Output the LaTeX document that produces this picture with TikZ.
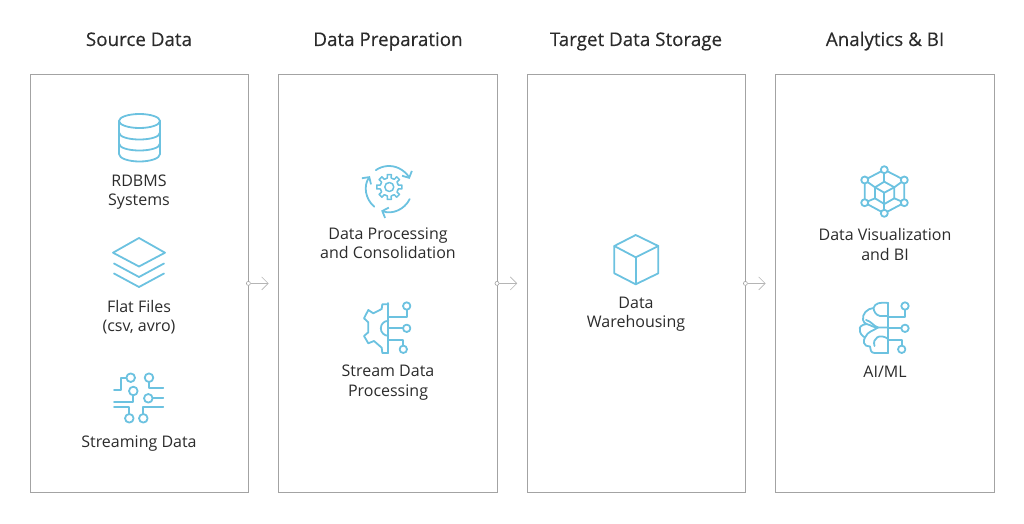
\documentclass[tikz,border=0pt]{standalone}
\usepackage{fontspec}
\setmainfont{Open Sans}
\newfontfamily\headfont[FakeBold=0.25]{Open Sans}
\usetikzlibrary{arrows.meta}
\definecolor{ico}{HTML}{6CC2E0}
\definecolor{pan}{HTML}{A3A3A3}
\definecolor{txt}{HTML}{2B2B2B}
\tikzset{
 x=1pt,y=-1pt,
 panel/.style={draw=pan,line width=0.8pt,minimum width=218.5pt,minimum height=418pt,inner sep=0pt,outer sep=0pt},
 head/.style={font=\headfont\fontsize{18.8}{20}\selectfont,text=txt,inner sep=0pt,anchor=base},
 lab/.style={font=\fontsize{16}{19.5}\selectfont,text=txt,align=center,inner sep=0pt},
 icon/.style={draw=ico,line width=1.8pt,line join=round,line cap=round},
 dot/.style={circle,draw=pan,fill=white,line width=0.6pt,minimum size=4pt,inner sep=0pt},
 flow/.style={draw=pan!80,line width=0.6pt,-{Straight Barb[length=6.5pt,width=13pt,line width=0.6pt]}},
 barb/.style={-{Straight Barb[length=5pt,width=11pt,line width=1.8pt]}},
}
\begin{document}
\begin{tikzpicture}
\useasboundingbox (0,0) rectangle (1024,524);
% panels
\node[panel] (p1) at (139.2,283) {};
\node[panel] (p2) at (387.8,283) {};
\node[panel] (p3) at (636.2,283) {};
\node[panel] (p4) at (884.8,283) {};
% headers
\node[head] (h1) at (139,46) {Source Data};
\node[head] (h2) at (388,46) {Data Preparation};
\node[head] (h3) at (636,46) {Target Data Storage};
\node[head] (h4) at (885,46) {Analytics \& BI};
% labels
\node[lab] (l1) at (139,192.3) {RDBMS\\Systems};
\node[lab] (l2) at (139,317) {Flat Files\\(csv, avro)};
\node[lab] (l3) at (139,444) {Streaming Data};
\node[lab] (l4) at (388,243) {Data Processing\\and Consolidation};
\node[lab] (l5) at (388,382.7) {Stream Data\\Processing};
\node[lab] (l6) at (636,314) {Data\\Warehousing};
\node[lab] (l7) at (885,244.5) {Data Visualization\\and BI};
\node[lab] (l8) at (885,371.5) {AI/ML};
% connectors
\node[dot] (d1) at (248.4,283.4) {};
\node[dot] (d2) at (497,283.4) {};
\node[dot] (d3) at (745.4,283.4) {};
\coordinate (e1) at (268.6,283.4);
\coordinate (e2) at (517.2,283.4);
\coordinate (e3) at (765.6,283.4);
\draw[flow] (d1) -- (e1);
\draw[flow] (d2) -- (e2);
\draw[flow] (d3) -- (e3);
% cylinder
\draw[icon] (139.5,121) ellipse [x radius=20.5,y radius=7];
\draw[icon] (119,121) -- (119,154) .. controls (119,158.5) and (129,161.5) .. (139.5,161.5) .. controls (150,161.5) and (160,158.5) .. (160,154) -- (160,121);
\draw[icon] (119,132.5) .. controls (119,137) and (129,139.5) .. (139.5,139.5) .. controls (150,139.5) and (160,137) .. (160,132.5);
\draw[icon] (119,143.5) .. controls (119,148) and (129,150.5) .. (139.5,150.5) .. controls (150,150.5) and (160,148) .. (160,143.5);
% layers
\draw[icon] (139,238) -- (165,252.7) -- (139,266.5) -- (113,252.7) -- cycle;
\draw[icon] (114,263.5) -- (139,277) -- (164,263.5);
\draw[icon] (114,273.5) -- (139,287) -- (164,273.5);
% streaming
\foreach \a/\b in {130.7/377.7,149/377.7,133.3/391,148.3/398.3,129.3/418.3,143.3/418.3}
  \draw[icon] (\a,\b) circle [radius=4.3pt];
\draw[icon] (126.4,377.7) -- (120.7,377.7) -- (120.7,390) -- (114,390);
\draw[icon] (149,382) -- (149,387.7) -- (163.3,387.7);
\draw[icon] (133.3,395.3) -- (133.3,401.7) -- (114,401.7);
\draw[icon] (152.6,398.3) -- (163.3,398.3);
\draw[icon] (129.3,414) -- (129.3,407.3) -- (114,407.3);
\draw[icon] (143.3,414) -- (143.3,407.3) -- (163.3,407.3);
% gear with cycle
\begin{scope}[shift={(389.3,187)}]
 \draw[icon,line width=1.5pt] (0,0) circle [radius=4.5pt];
 \foreach \t in {0,45,...,315}
  \draw[icon,line width=1.5pt] (\t-22.5:9pt) -- (\t-12:9.2pt) -- (\t-9:12.6pt) -- (\t+9:12.6pt) -- (\t+12:9.2pt) -- (\t+22.5:9pt);
\end{scope}
\begin{scope}[shift={(389,189)}]
 \draw[icon,barb] (125:23pt) arc [start angle=125,end angle=26,radius=23pt];
 \draw[icon,barb] (-26:23pt) arc [start angle=-26,end angle=-110,radius=23pt];
 \draw[icon,barb] (-130:23pt) arc [start angle=-130,end angle=-214,radius=23pt];
\end{scope}
% half gear
\draw[icon] (388.3,303) -- (388.3,353);
\draw[icon] (388.3,304.3) -- (382.3,304.3) -- (381.7,309) -- (373.3,313.3) -- (368.3,310) -- (364,318.3) -- (368.3,322.3) -- (368.3,332.3) -- (364,336) -- (368.3,343.3) -- (374,341) -- (381.7,347.7) -- (382.3,353) -- (388.3,353);
\draw[icon] (388.3,320.8) arc [start angle=90,end angle=270,radius=7.5pt];
\draw[icon] (388.3,316.7) -- (406.7,316.7) -- (406.7,309.7);
\draw[icon] (406.7,306) circle [radius=3.7pt];
\draw[icon] (388.3,328.3) -- (403,328.3);
\draw[icon] (406.7,328.3) circle [radius=3.7pt];
\draw[icon] (388.3,340) -- (403.3,340) -- (403.3,345.6);
\draw[icon] (403.3,349.3) circle [radius=3.7pt];
% cube
\draw[icon] (635.7,235) -- (658.3,246) -- (658.3,273.3) -- (635.7,284.3) -- (614.3,273.3) -- (614.3,246) -- cycle;
\draw[icon] (614.3,246) -- (635.7,257.3) -- (658.3,246);
\draw[icon] (635.7,257.3) -- (635.7,284.3);
% network
\draw[icon] (884.3,169.7) -- (904.3,180) -- (904.3,202.7) -- (884.3,213.3) -- (864.7,202.7) -- (864.7,180) -- cycle;
\draw[icon] (884.3,181.7) -- (894.3,187.3) -- (894.3,198.3) -- (884.3,204) -- (875,198.3) -- (875,187.3) -- cycle;
\draw[icon] (875,187.3) -- (884.3,192.7) -- (894.3,187.3);
\draw[icon] (884.3,192.7) -- (884.3,204);
\draw[icon] (884.3,169.7) -- (884.3,181.7);
\draw[icon] (904.3,180) -- (894.3,187.3);
\draw[icon] (904.3,202.7) -- (894.3,198.3);
\draw[icon] (884.3,213.3) -- (884.3,204);
\draw[icon] (864.7,202.7) -- (875,198.3);
\draw[icon] (864.7,180) -- (875,187.3);
\foreach \a/\b in {884.3/169.7,904.3/180,904.3/202.7,884.3/213.3,864.7/202.7,864.7/180}
  \draw[icon,fill=white] (\a,\b) circle [radius=3.5pt];
% brain
\draw[icon] (888.3,303) -- (888.3,353);
\draw[icon] (888.3,303) .. controls (880,302) and (875,303) .. (873.5,308)
 .. controls (867,308.5) and (862,314) .. (863,320)
 .. controls (863,322) and (865,323) .. (866.5,324)
 .. controls (861,325) and (859,327) .. (860,330)
 .. controls (859.5,333) and (862,336) .. (865,337.5)
 .. controls (864,339) and (863.5,341) .. (864,343)
 .. controls (864.5,345.5) and (867,346.5) .. (870,346.5)
 .. controls (870,349.5) and (871,353) .. (874.5,353) -- (888.3,353);
\draw[icon] (888.3,316) -- (880,316) .. controls (876,315) and (874,312) .. (873.5,308);
\draw[icon] (888.3,327.5) -- (878,327.5) .. controls (874,326.5) and (871,321) .. (866,320);
\draw[icon] (866.5,324) .. controls (871,325) and (874,328) .. (878,327.5);
\draw[icon] (888.3,339) .. controls (880,333) and (872,338) .. (874.5,346);
\draw[icon] (865,337.5) .. controls (868,331) and (873,331) .. (878,327.5);
\draw[icon] (888.3,316.7) -- (905,316.7) -- (905,309.7);
\draw[icon] (905,306) circle [radius=3.7pt];
\draw[icon] (888.3,328.3) -- (901.3,328.3);
\draw[icon] (905,328.3) circle [radius=3.7pt];
\draw[icon] (888.3,340) -- (901.7,340) -- (901.7,345.6);
\draw[icon] (901.7,349.3) circle [radius=3.7pt];
\end{tikzpicture}
\end{document}
